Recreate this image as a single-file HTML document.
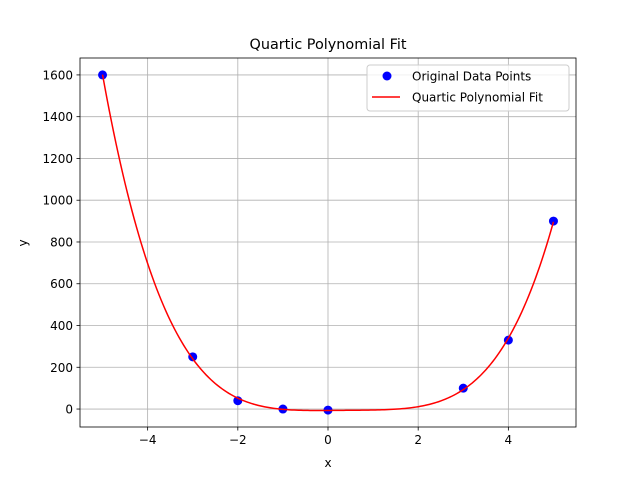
<!DOCTYPE html>
<html><head><meta charset="utf-8"><style>
body{margin:0;background:#fff}
text{font-family:"DejaVu Sans","Liberation Sans",sans-serif;fill:#000}
</style></head><body>
<svg id="chart" width="640" height="480" xmlns="http://www.w3.org/2000/svg">
<rect width="640" height="480" fill="#fff"/>
<g id="grid"></g><g id="axes"></g><g id="series"></g>
<text x="328" y="49" font-size="14.4" text-anchor="middle">Quartic Polynomial Fit</text>
<text x="328" y="467" font-size="12" text-anchor="middle">x</text>
<text x="0" y="0" font-size="12" text-anchor="middle" transform="translate(27,243) rotate(-90)">y</text>
<g>
<rect x="367" y="65" width="202" height="46" rx="3" fill="#fff" fill-opacity="0.8" stroke="#ccc"/>
<circle cx="387" cy="76" r="4.5" fill="#0000ff"/>
<text x="412" y="80.5" font-size="12">Original Data Points</text>
<line x1="372" y1="97" x2="400" y2="97" stroke="#ff0000" stroke-width="1.5"/>
<text x="412" y="101.5" font-size="12">Quartic Polynomial Fit</text>
</g>
</svg>
<script>
const xData=[-5,-3,-2,-1,0,3,4,5];
const yData=[1600,250,40,0,-5,100,330,900];
const xTicks=[-4,-2,0,2,4];
const yTicks=[0,200,400,600,800,1000,1200,1400,1600];
const L=80,R=576,T=58,B=427;
const xMin=-5.5,xMax=5.5,yMin=-86,yMax=1681;
const sx=v=>L+(v-xMin)/(xMax-xMin)*(R-L);
const sy=v=>B-(v-yMin)/(yMax-yMin)*(B-T);
const NS="http://www.w3.org/2000/svg";
function mk(t,a,p){const e=document.createElementNS(NS,t);for(const k in a)e.setAttribute(k,a[k]);p.appendChild(e);return e;}
const grid=document.getElementById('grid'),axes=document.getElementById('axes'),series=document.getElementById('series');
xTicks.forEach(v=>{const x=sx(v);
const g=mk('line',{x1:x,x2:x,y1:T,y2:B,stroke:'#b0b0b0','stroke-width':0.8},grid);

mk('line',{x1:x,x2:x,y1:B,y2:B+3.5,stroke:'#000','stroke-width':0.8},axes);
const t=mk('text',{x:x,y:B+17,'font-size':12,'text-anchor':'middle'},axes);t.textContent=(v<0?'\u2212'+(-v):v);
});
yTicks.forEach(v=>{const y=sy(v);
const g=mk('line',{x1:L,x2:R,y1:y,y2:y,stroke:'#b0b0b0','stroke-width':0.8},grid);

mk('line',{x1:L-3.5,x2:L,y1:y,y2:y,stroke:'#000','stroke-width':0.8},axes);
const t=mk('text',{x:L-7,y:y+4.5,'font-size':12,'text-anchor':'end'},axes);t.textContent=v;
});
const fr=mk('rect',{x:L,y:T,width:R-L,height:B-T,fill:'none',stroke:'#000','stroke-width':0.8},axes);

// least squares quartic fit
const n=5,A=[],bv=[];
for(let i=0;i<n;i++){A.push([]);for(let j=0;j<n;j++){let s=0;xData.forEach(x=>s+=Math.pow(x,i+j));A[i].push(s);}let s=0;xData.forEach((x,k)=>s+=yData[k]*Math.pow(x,i));bv.push(s);}
for(let i=0;i<n;i++){let p=i;for(let r=i+1;r<n;r++)if(Math.abs(A[r][i])>Math.abs(A[p][i]))p=r;[A[i],A[p]]=[A[p],A[i]];[bv[i],bv[p]]=[bv[p],bv[i]];
for(let r=0;r<n;r++)if(r!==i){const f=A[r][i]/A[i][i];for(let c=i;c<n;c++)A[r][c]-=f*A[i][c];bv[r]-=f*bv[i];}}
const coef=bv.map((v,i)=>v/A[i][i]);
const f=x=>coef.reduce((s,c,i)=>s+c*Math.pow(x,i),0);
const x0=Math.min(...xData),x1=Math.max(...xData);
let d='';for(let i=0;i<=200;i++){const x=x0+(x1-x0)*i/200;d+=(i?'L':'M')+sx(x).toFixed(2)+','+sy(f(x)).toFixed(2);}
xData.forEach((x,i)=>{const c=mk('circle',{cx:sx(x),cy:sy(yData[i]),r:4.5,fill:'#0000ff'},series);
});
const line=mk('path',{d:d,fill:'none',stroke:'#ff0000','stroke-width':1.5},series);

</script>
</body></html>
